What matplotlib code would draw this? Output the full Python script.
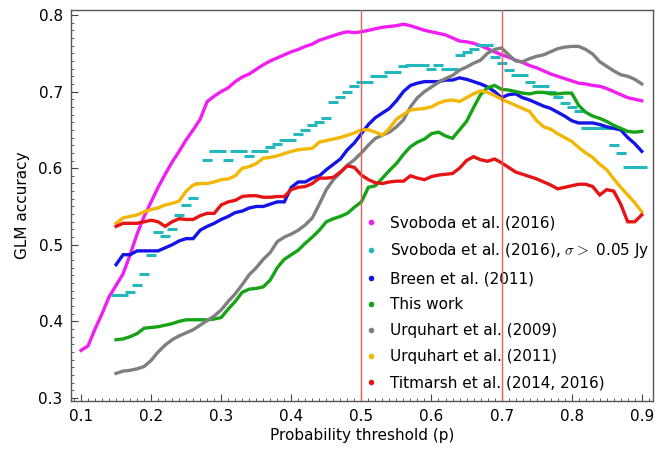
import numpy as np
import matplotlib
matplotlib.use("Agg")
import matplotlib.pyplot as plt
from matplotlib.lines import Line2D
from matplotlib.ticker import MultipleLocator


# ------------------------------------------------------------
# data: GLM accuracy vs probability threshold, per catalogue
# ------------------------------------------------------------

P_SVOBODA = np.round(np.arange(0.10, 0.905, 0.01), 2)
P_OTHERS = np.round(np.arange(0.15, 0.905, 0.01), 2)

ACC_SVOBODA = [
    0.362, 0.368, 0.390, 0.410, 0.432, 0.447, 0.462, 0.487, 0.514, 0.537,
    0.556, 0.575, 0.592, 0.608, 0.622, 0.637, 0.650, 0.664, 0.687, 0.694,
    0.700, 0.705, 0.713, 0.719, 0.723, 0.729, 0.735, 0.740, 0.744, 0.748,
    0.752, 0.755, 0.759, 0.762, 0.767, 0.770, 0.773, 0.776, 0.778, 0.777,
    0.778, 0.780, 0.782, 0.784, 0.785, 0.786, 0.788, 0.786, 0.783, 0.780,
    0.778, 0.776, 0.774, 0.770, 0.766, 0.765, 0.763, 0.760, 0.756, 0.752,
    0.748, 0.745, 0.741, 0.738, 0.734, 0.731, 0.727, 0.723, 0.720, 0.717,
    0.714, 0.711, 0.710, 0.708, 0.707, 0.704, 0.700, 0.696, 0.692, 0.690,
    0.688,
]

ACC_SVOBODA_SIGMA = [
    0.434, 0.434, 0.438, 0.447, 0.462, 0.487, 0.517, 0.511, 0.520, 0.539,
    0.552, 0.561, 0.580, 0.611, 0.622, 0.622, 0.611, 0.622, 0.622, 0.616,
    0.622, 0.622, 0.628, 0.632, 0.637, 0.637, 0.645, 0.650, 0.656, 0.660,
    0.666, 0.686, 0.693, 0.700, 0.707, 0.713, 0.713, 0.720, 0.720, 0.726,
    0.726, 0.733, 0.735, 0.735, 0.735, 0.730, 0.735, 0.730, 0.730, 0.748,
    0.752, 0.756, 0.761, 0.761, 0.745, 0.737, 0.728, 0.722, 0.722, 0.713,
    0.707, 0.707, 0.700, 0.693, 0.685, 0.680, 0.674, 0.652, 0.652, 0.652,
    0.652, 0.630, 0.620, 0.602, 0.602, 0.602,
]

ACC_BREEN = [
    0.474, 0.487, 0.487, 0.492, 0.492, 0.492, 0.492, 0.496, 0.500, 0.505,
    0.508, 0.508, 0.519, 0.524, 0.528, 0.533, 0.537, 0.542, 0.544, 0.548,
    0.550, 0.550, 0.553, 0.556, 0.556, 0.575, 0.582, 0.582, 0.587, 0.590,
    0.598, 0.605, 0.612, 0.624, 0.633, 0.645, 0.657, 0.666, 0.672, 0.678,
    0.688, 0.700, 0.708, 0.711, 0.713, 0.713, 0.713, 0.715, 0.715, 0.718,
    0.716, 0.713, 0.710, 0.706, 0.700, 0.692, 0.696, 0.697, 0.692, 0.689,
    0.685, 0.681, 0.678, 0.673, 0.668, 0.662, 0.659, 0.659, 0.659, 0.657,
    0.654, 0.652, 0.650, 0.640, 0.632, 0.622,
]

ACC_THIS_WORK = [
    0.376, 0.377, 0.380, 0.384, 0.391, 0.392, 0.393, 0.395, 0.397, 0.400,
    0.402, 0.402, 0.402, 0.402, 0.403, 0.405, 0.416, 0.426, 0.438, 0.442,
    0.443, 0.445, 0.454, 0.470, 0.481, 0.487, 0.493, 0.502, 0.510, 0.519,
    0.530, 0.534, 0.537, 0.541, 0.549, 0.556, 0.575, 0.577, 0.587, 0.597,
    0.606, 0.618, 0.628, 0.634, 0.638, 0.645, 0.647, 0.642, 0.639, 0.650,
    0.661, 0.679, 0.696, 0.705, 0.708, 0.703, 0.702, 0.700, 0.698, 0.697,
    0.699, 0.699, 0.697, 0.697, 0.698, 0.698, 0.682, 0.673, 0.668, 0.665,
    0.661, 0.656, 0.652, 0.648, 0.647, 0.648,
]

ACC_URQUHART_2009 = [
    0.332, 0.335, 0.336, 0.338, 0.341, 0.349, 0.360, 0.369, 0.376, 0.381,
    0.385, 0.389, 0.395, 0.401, 0.407, 0.415, 0.426, 0.436, 0.448, 0.461,
    0.470, 0.481, 0.490, 0.504, 0.510, 0.514, 0.519, 0.526, 0.535, 0.553,
    0.572, 0.585, 0.594, 0.604, 0.611, 0.620, 0.630, 0.639, 0.643, 0.647,
    0.654, 0.663, 0.680, 0.692, 0.700, 0.706, 0.712, 0.717, 0.721, 0.728,
    0.732, 0.737, 0.741, 0.750, 0.755, 0.757, 0.748, 0.740, 0.739, 0.743,
    0.746, 0.748, 0.752, 0.756, 0.758, 0.759, 0.759, 0.755, 0.749, 0.739,
    0.733, 0.727, 0.722, 0.720, 0.716, 0.710,
]

ACC_URQUHART_2011 = [
    0.528, 0.535, 0.537, 0.539, 0.543, 0.546, 0.548, 0.552, 0.554, 0.557,
    0.570, 0.578, 0.580, 0.580, 0.582, 0.585, 0.586, 0.590, 0.600, 0.602,
    0.606, 0.613, 0.614, 0.616, 0.619, 0.622, 0.624, 0.625, 0.626, 0.634,
    0.636, 0.638, 0.640, 0.643, 0.646, 0.650, 0.650, 0.647, 0.643, 0.652,
    0.664, 0.670, 0.676, 0.677, 0.678, 0.680, 0.685, 0.688, 0.689, 0.687,
    0.692, 0.697, 0.701, 0.699, 0.695, 0.690, 0.686, 0.682, 0.678, 0.674,
    0.662, 0.654, 0.651, 0.645, 0.640, 0.635, 0.627, 0.620, 0.614, 0.605,
    0.598, 0.586, 0.575, 0.565, 0.555, 0.543,
]

ACC_TITMARSH = [
    0.524, 0.528, 0.528, 0.528, 0.530, 0.532, 0.530, 0.524, 0.530, 0.534,
    0.533, 0.533, 0.538, 0.541, 0.541, 0.552, 0.556, 0.558, 0.563, 0.564,
    0.564, 0.562, 0.562, 0.563, 0.563, 0.572, 0.575, 0.576, 0.580, 0.587,
    0.587, 0.588, 0.595, 0.603, 0.601, 0.591, 0.585, 0.581, 0.580, 0.582,
    0.583, 0.583, 0.590, 0.587, 0.585, 0.589, 0.591, 0.592, 0.593, 0.600,
    0.610, 0.615, 0.611, 0.609, 0.612, 0.607, 0.601, 0.595, 0.592, 0.589,
    0.586, 0.582, 0.578, 0.573, 0.575, 0.577, 0.579, 0.579, 0.576, 0.565,
    0.572, 0.570, 0.553, 0.530, 0.530, 0.539,
]

LABELS = [
    "Svoboda et al. (2016)",
    r"Svoboda et al. (2016), $\sigma >$ 0.05 Jy",
    "Breen et al. (2011)",
    "This work",
    "Urquhart et al. (2009)",
    "Urquhart et al. (2011)",
    r"Titmarsh et al. (2014, 2016)",
]

COLORS = ["#f01ef0", "#22b8bc", "#1414e6", "#16a316",
          "#7f7f7f", "#f2b705", "#e61414"]

THRESHOLDS = [0.5, 0.7]


# ------------------------------------------------------------
# figure
# ------------------------------------------------------------

plt.rcParams["font.family"] = ["DejaVu Sans"]
plt.rcParams["mathtext.fontset"] = "cm"

fig = plt.figure(figsize=(6.68, 4.51), dpi=100)
ax = fig.add_axes([0.1063, 0.1109, 0.8712, 0.8669])

series = [
    (P_SVOBODA, ACC_SVOBODA),
    (P_OTHERS, ACC_SVOBODA_SIGMA),
    (P_OTHERS, ACC_BREEN),
    (P_OTHERS, ACC_THIS_WORK),
    (P_OTHERS, ACC_URQUHART_2009),
    (P_OTHERS, ACC_URQUHART_2011),
    (P_OTHERS, ACC_TITMARSH),
]

for i, (x, y) in enumerate(series):
    if i == 1:
        # sparse stepped points show up as short dashes
        ax.plot(x, y, linestyle="none", marker="_", markersize=7,
                markeredgewidth=2.2, color=COLORS[i], zorder=3)
    else:
        ax.plot(x, y, linestyle="-", linewidth=2.4, color=COLORS[i],
                solid_joinstyle="miter", zorder=3)

for t in THRESHOLDS:
    ax.axvline(t, color="#e06060", linewidth=1.0, zorder=4)

ax.set_xlim(0.0857, 0.916)
ax.set_ylim(0.296, 0.8065)

ax.xaxis.set_major_locator(MultipleLocator(0.1))
ax.xaxis.set_minor_locator(MultipleLocator(0.01))
ax.yaxis.set_major_locator(MultipleLocator(0.1))
ax.yaxis.set_minor_locator(MultipleLocator(0.01))
ax.tick_params(which="major", direction="in", length=5, width=0.8,
               labelsize=11, color="#444444", pad=6)
ax.tick_params(which="minor", direction="in", length=2.5, width=0.6,
               color="#444444")
ax.set_xticklabels([f"{v:.1f}" for v in ax.get_xticks()])
ax.set_yticklabels([f"{v:.1f}" for v in ax.get_yticks()])

for s in ax.spines.values():
    s.set_color("#555555")
    s.set_linewidth(1.0)

ax.set_xlabel("Probability threshold (p)", fontsize=11, labelpad=3)
ax.set_ylabel("GLM accuracy", fontsize=11, labelpad=6)

handles = [Line2D([], [], linestyle="none", marker="o", markersize=3,
                  color=c) for c in COLORS]
leg = ax.legend(handles, LABELS, loc="lower right",
                bbox_to_anchor=(1.012, 0.0), frameon=False, fontsize=11,
                handlelength=1.0, handletextpad=0.7, labelspacing=0.72,
                borderaxespad=0.3)
leg.set_zorder(1)

fig.savefig("out.png", dpi=100)
